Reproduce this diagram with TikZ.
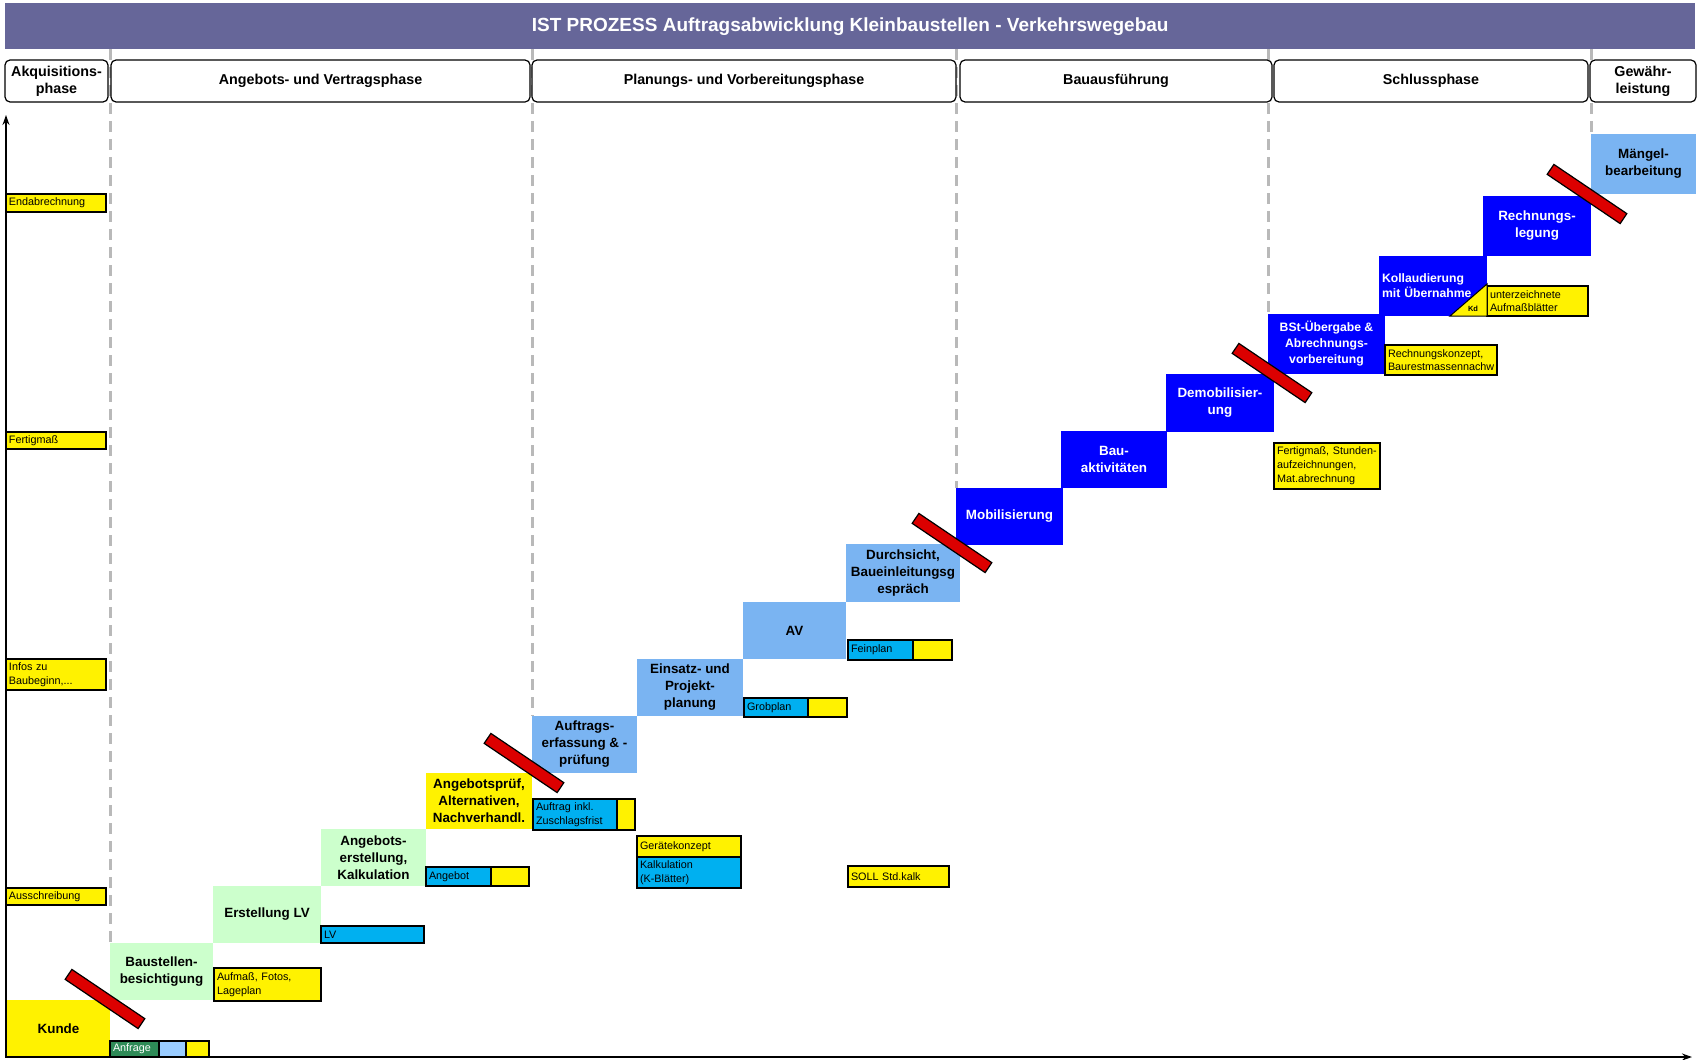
\documentclass[tikz,border=0pt]{standalone}
\usepackage{fontspec}
\setmainfont{Liberation Sans}
\usetikzlibrary{arrows.meta}
\definecolor{barpurple}{RGB}{102,102,153}
\definecolor{stepgreen}{RGB}{204,255,204}
\definecolor{steplight}{RGB}{122,180,242}
\definecolor{stepblue}{RGB}{0,0,255}
\definecolor{datacyan}{RGB}{0,176,240}
\definecolor{anfragegreen}{RGB}{46,139,87}
\definecolor{paleblue}{RGB}{153,204,255}
\definecolor{barred}{RGB}{220,0,0}
\definecolor{gridgray}{RGB}{185,185,185}
\begin{document}
\begin{tikzpicture}[x=1pt,y=-1pt,>={Stealth[length=10pt,width=7pt]},
    titlebar/.style={anchor=north west,fill=barpurple,text=white,inner sep=0pt,font=\fontsize{19}{23}\selectfont\bfseries},
    phasebox/.style={anchor=north west,draw,line width=1.2pt,rounded corners=5pt,fill=white,inner sep=0pt,outer sep=0pt,minimum height=42pt,align=center,font=\fontsize{14.3}{17}\selectfont\bfseries},
    stepbox/.style={anchor=north west,inner sep=0pt,outer sep=0pt,align=center,font=\fontsize{13.4}{17}\selectfont\bfseries},
    greenstep/.style={stepbox,fill=stepgreen},
    yellowstep/.style={stepbox,fill=yellow},
    lightstep/.style={stepbox,fill=steplight},
    bluestep/.style={stepbox,fill=stepblue,text=white},
    databox/.style={anchor=north west,draw,line width=1.2pt,inner xsep=3pt,inner ysep=0pt,outer sep=0pt,align=left,font=\fontsize{10.8}{13.5}\selectfont},
    yellowbox/.style={databox,fill=yellow},
    cyanbox/.style={databox,fill=datacyan},
    cutbar/.style={draw,line width=1.2pt,fill=barred,minimum width=88pt,minimum height=12pt,inner sep=0pt,rotate=-34},
    gridline/.style={draw=gridgray,line width=3pt,dash pattern=on 11pt off 7pt},
    axis/.style={line width=2pt}]
\useasboundingbox (0,0) rectangle (1700,1060);

% title
\node[titlebar,minimum width=1690pt,minimum height=46pt] (bar) at (5,3) {IST PROZESS Auftragsabwicklung Kleinbaustellen - Verkehrswegebau};

% process steps
\node[yellowstep,minimum width=103pt,minimum height=57pt] (kunde) at (7,1000) {Kunde};
\node[greenstep,minimum width=103pt,minimum height=57pt] (besicht) at (110,943) {Baustellen-\\besichtigung};
\node[greenstep,minimum width=108pt,minimum height=57pt] (erstlv) at (213,886) {Erstellung LV};
\node[greenstep,minimum width=105pt,minimum height=57pt] (angerst) at (321,829) {Angebots-\\erstellung,\\Kalkulation};
\node[yellowstep,minimum width=106pt,minimum height=56pt] (angpruef) at (426,773) {Angebotsprüf,\\Alternativen,\\Nachverhandl.};
\node[lightstep,minimum width=105pt,minimum height=57pt] (auftrag) at (532,716) {Auftrags-\\erfassung \& -\\prüfung};
\node[lightstep,minimum width=106pt,minimum height=57pt] (einsatz) at (637,659) {Einsatz- und\\Projekt-\\planung};
\node[lightstep,minimum width=103pt,minimum height=57pt] (av) at (743,602) {AV};
\node[lightstep,minimum width=114pt,minimum height=58pt] (durchsicht) at (846,544) {Durchsicht,\\Baueinleitungsg\\espräch};
\node[bluestep,minimum width=107pt,minimum height=57pt] (mobil) at (956,488) {Mobilisierung};
\node[bluestep,minimum width=106pt,minimum height=57pt] (bauakt) at (1061,431) {Bau-\\aktivitäten};
\node[bluestep,minimum width=108pt,minimum height=58pt] (demob) at (1166,374) {Demobilisier-\\ung};
\node[bluestep,minimum width=117pt,minimum height=60pt,font=\fontsize{12.2}{16}\selectfont\bfseries] (bst) at (1268,314) {BSt-Übergabe \&\\Abrechnungs-\\vorbereitung};
\node[bluestep,minimum height=60pt,inner xsep=3pt,text width=102pt,align=left,font=\fontsize{12.2}{15}\selectfont\bfseries] (kollaud) at (1379,256) {Kollaudierung\\mit Übernahme};
\node[bluestep,minimum width=108pt,minimum height=60pt] (rechnung) at (1483,196) {Rechnungs-\\legung};
\node[lightstep,minimum width=105pt,minimum height=60pt] (maengel) at (1591,134) {Mängel-\\bearbeitung};

% phase separators
\draw[gridline] (besicht.north west |- bar.south) -- (besicht.north west);
\draw[gridline] (auftrag.north west |- bar.south) -- (auftrag.north west);
\draw[gridline] (mobil.north west |- bar.south) -- (mobil.north west);
\draw[gridline] (bst.north west |- bar.south) -- (bst.north west);
\draw[gridline] (maengel.north west |- bar.south) -- (maengel.north west);

% phases
\node[phasebox,minimum width=103pt] (akq) at (5,60) {Akquisitions-\\phase};
\node[phasebox,minimum width=419pt] (angv) at (111,60) {Angebots- und Vertragsphase};
\node[phasebox,minimum width=424pt] (planv) at (532,60) {Planungs- und Vorbereitungsphase};
\node[phasebox,minimum width=312pt] (bauf) at (960,60) {Bauausführung};
\node[phasebox,minimum width=314pt] (schluss) at (1274,60) {Schlussphase};
\node[phasebox,minimum width=106pt] (gewaehr) at (1590,60) {Gewähr-\\leistung};

% left milestones
\node[yellowbox,text width=94pt,minimum height=18pt] (endabr) at (6,194) {Endabrechnung};
\node[yellowbox,text width=94pt,minimum height=17pt] (fertigl) at (6,432) {Fertigmaß};
\node[yellowbox,text width=94pt,minimum height=31pt] (infos) at (6,659) {Infos zu\\Baubeginn,...};
\node[yellowbox,text width=94pt,minimum height=17pt] (ausschr) at (6,888) {Ausschreibung};

% documents
\node[databox,fill=anfragegreen,text=white,text width=43pt,minimum height=16pt] (anfrage) at (110,1041) {Anfrage};
\node[databox,fill=paleblue,minimum width=27pt,minimum height=16pt] (anfrageb) at (anfrage.north east) {};
\node[yellowbox,minimum width=23pt,minimum height=16pt] (anfragey) at (anfrageb.north east) {};
\node[yellowbox,text width=101pt,minimum height=33pt] (aufmass) at (214,968) {Aufmaß, Fotos,\\Lageplan};
\node[cyanbox,text width=97pt,minimum height=17pt] (lv) at (321,926) {LV};
\node[cyanbox,text width=59pt,minimum height=19pt] (angebot) at (426,867) {Angebot};
\node[yellowbox,minimum width=38pt,minimum height=19pt] (angeboty) at (angebot.north east) {};
\node[cyanbox,text width=78pt,minimum height=31pt] (zuschlag) at (533,799) {Auftrag inkl.\\Zuschlagsfrist};
\node[yellowbox,minimum width=18pt,minimum height=31pt] (zuschlagy) at (zuschlag.north east) {};
\node[yellowbox,text width=98pt,minimum height=21pt] (geraete) at (637,836) {Gerätekonzept};
\node[cyanbox,text width=98pt,minimum height=31pt] (kblatt) at (geraete.south west) {Kalkulation\\(K-Blätter)};
\node[cyanbox,text width=58pt,minimum height=19pt] (grobplan) at (744,698) {Grobplan};
\node[yellowbox,minimum width=39pt,minimum height=19pt] (grobplany) at (grobplan.north east) {};
\node[cyanbox,text width=59pt,minimum height=20pt] (feinplan) at (848,640) {Feinplan};
\node[yellowbox,minimum width=39pt,minimum height=20pt] (feinplany) at (feinplan.north east) {};
\node[yellowbox,text width=95pt,minimum height=21pt] (soll) at (848,866) {SOLL Std.kalk};
\node[yellowbox,text width=100pt,minimum height=46pt,font=\fontsize{10.8}{14}\selectfont] (fertig) at (1274,443) {Fertigmaß, Stunden-\\aufzeichnungen,\\Mat.abrechnung};
\node[yellowbox,text width=106pt,minimum height=30pt] (rkonzept) at (1385,345) {Rechnungskonzept,\\Baurestmassennachw};
\node[yellowbox,text width=95pt,minimum height=30pt] (unterz) at (kollaud.south east |- 0,286) {unterzeichnete\\Aufmaßblätter};
\draw[line width=1pt,fill=yellow] (kollaud.south east) -- ++(-37,0) -- ++(37,-32) -- cycle;
\node[font=\fontsize{7.5}{9}\selectfont\bfseries,inner sep=0pt] (kd) at ([xshift=-14pt,yshift=7pt]kollaud.south east) {Kd};

% interfaces
\node[cutbar] (cut1) at (105,999) {};
\node[cutbar] (cut2) at (524,763) {};
\node[cutbar] (cut3) at (952,543) {};
\node[cutbar] (cut4) at (1272,373) {};
\node[cutbar] (cut5) at (1587,194) {};

% axes
\coordinate (origin) at (6,1057);
\coordinate (ytop) at (6,115);
\coordinate (xend) at (1692,1057);
\draw[axis,<->] (ytop) -- (origin) -- (xend);
\end{tikzpicture}
\end{document}
